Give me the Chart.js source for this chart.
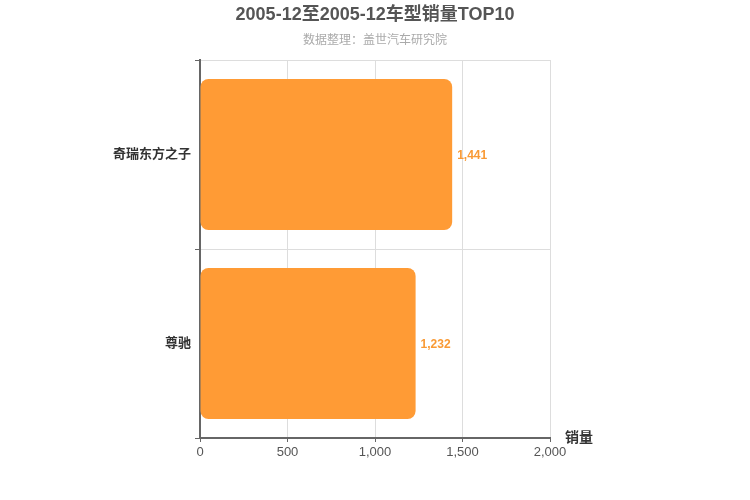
<!DOCTYPE html>
<html>
<head>
<meta charset="utf-8">
<script src="https://cdn.jsdelivr.net/npm/chart.js@4/dist/chart.umd.min.js"></script>
<style>
  html, body { margin: 0; padding: 0; background: #fff; }
  #wrap { width: 750px; height: 500px; }
</style>
</head>
<body>
<div id="wrap"><canvas id="salesChart"></canvas></div>
<script>
const FONT = '"Liberation Sans", Arial, "Noto Sans CJK SC", sans-serif';

// data
const models = ['奇瑞东方之子', '尊驰'];
const sales = [1441, 1232];
const xTicks = [0, 500, 1000, 1500, 2000];

const titleText = '2005-12至2005-12车型销量TOP10';
const subtitleText = '数据整理：盖世汽车研究院';
const axisTitle = '销量';

// title block centred on the whole canvas, value labels, axis title
const extraText = {
    id: 'extraText',
    afterDatasetsDraw(chart) {
        const ctx = chart.ctx;
        const meta = chart.getDatasetMeta(0);
        ctx.save();
        ctx.textBaseline = 'middle';

        ctx.textAlign = 'center';
        ctx.font = 'bold 18px ' + FONT;
        ctx.fillStyle = '#555';
        ctx.fillText(titleText, chart.width / 2, 15);
        ctx.font = '12px ' + FONT;
        ctx.fillStyle = '#aaa';
        ctx.fillText(subtitleText, chart.width / 2, 41);

        ctx.textAlign = 'left';
        ctx.font = 'bold 12px ' + FONT;
        ctx.fillStyle = '#f99a35';
        meta.data.forEach((bar, i) => {
            ctx.fillText(sales[i].toLocaleString('en-US'), bar.x + 5, bar.y + 1);
        });
        ctx.font = 'bold 14px ' + FONT;
        ctx.fillStyle = '#333';
        ctx.fillText(axisTitle, chart.chartArea.right + 15, chart.chartArea.bottom);
        ctx.restore();
    }
};

const ctx = document.getElementById('salesChart').getContext('2d');
const chart = new Chart(ctx, {
    type: 'bar',
    data: {
        labels: models,
        datasets: [{
            data: sales,
            backgroundColor: '#ff9b35',
            borderRadius: 8,
            borderSkipped: false,
            barPercentage: 0.8,
            categoryPercentage: 1.0
        }]
    },
    options: {
        indexAxis: 'y',
        responsive: true,
        maintainAspectRatio: false,
        animation: false,
        layout: { padding: { left: 0, right: 200, top: 60, bottom: 0 } },
        plugins: {
            legend: { display: false },
            tooltip: { enabled: false },
            title: { display: false }
        },
        scales: {
            x: {
                min: 0,
                max: 2000,
                afterBuildTicks: (scale) => { scale.ticks = xTicks.map(v => ({ value: v })); },
                afterFit: (scale) => { scale.height = 62; },
                ticks: {
                    color: '#555',
                    font: { family: FONT, size: 13 },
                    padding: 3,
                    callback: (v) => v.toLocaleString('en-US')
                },
                grid: { color: '#ddd', tickColor: '#666', tickLength: 4 },
                border: { color: '#666', width: 2 }
            },
            y: {
                afterFit: (scale) => { scale.width = 200; },
                ticks: {
                    color: '#333',
                    font: { family: FONT, size: 13, weight: 'bold' },
                    padding: 4
                },
                grid: { offset: true, color: '#ddd', tickColor: '#666', tickLength: 5 },
                border: { color: '#666', width: 2 }
            }
        }
    },
    plugins: [extraText]
});
</script>
</body>
</html>
